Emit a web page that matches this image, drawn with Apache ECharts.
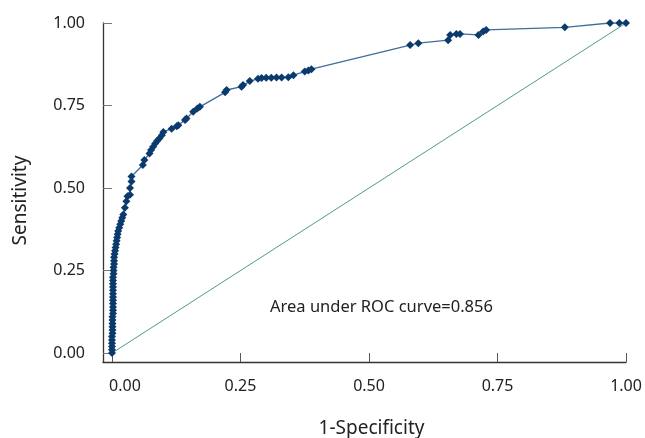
<!DOCTYPE html>
<html>
<head>
<meta charset="utf-8">
<script src="https://cdn.jsdelivr.net/npm/echarts@6/dist/echarts.min.js"></script>
<style>
  html, body { margin: 0; padding: 0; background: #fff; }
  #roc { width: 645px; height: 438px; }
</style>
</head>
<body>
<div id="roc"></div>
<script>
// ROC points (1-specificity, sensitivity)
var fpr = [0, 0, 0, 0, 0, 0, 0.001, 0.001, 0.001, 0.001, 0.001, 0.001,
  0.002, 0.002, 0.002, 0.002, 0.002, 0.002, 0.002, 0.002, 0.002, 0.002, 0.002, 0.002,
  0.003, 0.003, 0.003, 0.004, 0.004, 0.004, 0.005, 0.006, 0.007, 0.008, 0.009, 0.01,
  0.011, 0.012, 0.014, 0.016, 0.018, 0.02, 0.022, 0.025, 0.028,
  0.03, 0.035, 0.035, 0.038, 0.038, 0.06, 0.063, 0.073, 0.076, 0.08, 0.084, 0.088,
  0.092, 0.097, 0.1, 0.116, 0.126, 0.129, 0.142, 0.145, 0.158, 0.166, 0.171, 0.22,
  0.223, 0.252, 0.255, 0.268, 0.284, 0.291, 0.3, 0.31, 0.32, 0.33, 0.343, 0.353,
  0.375, 0.382, 0.388, 0.58, 0.596, 0.654, 0.658, 0.67, 0.677, 0.713, 0.722, 0.728,
  0.881, 0.969, 0.987, 1];
var sens = [0, 0.01, 0.02, 0.03, 0.04, 0.05, 0.06, 0.07, 0.08, 0.09, 0.1, 0.11,
  0.12, 0.13, 0.14, 0.15, 0.16, 0.17, 0.18, 0.19, 0.2, 0.21, 0.22, 0.23,
  0.24, 0.25, 0.26, 0.27, 0.28, 0.29, 0.3, 0.31, 0.32, 0.33, 0.34, 0.35,
  0.36, 0.37, 0.38, 0.39, 0.4, 0.41, 0.42, 0.44, 0.46,
  0.475, 0.48, 0.5, 0.52, 0.535, 0.57, 0.585, 0.605, 0.615, 0.625, 0.635, 0.643,
  0.65, 0.66, 0.67, 0.68, 0.687, 0.69, 0.706, 0.711, 0.731, 0.741, 0.746, 0.79,
  0.797, 0.807, 0.812, 0.824, 0.831, 0.833, 0.834, 0.834, 0.835, 0.835, 0.836, 0.842,
  0.853, 0.856, 0.86, 0.933, 0.939, 0.948, 0.964, 0.967, 0.967, 0.964, 0.974, 0.979,
  0.987, 1, 1, 1];
var tickValues = [0, 0.25, 0.5, 0.75, 1];
var aucText = 'Area under ROC curve=0.856';

var rocData = fpr.map(function (x, i) { return [x, sens[i]]; });
var diagData = [[0, 0], [1, 1]];

var chart = echarts.init(document.getElementById('roc'));
var font = 'Noto Sans';

var option = {
  animation: false,
  grid: { left: 103, right: 19, top: 23, bottom: 76, outerBoundsMode: 'none', containLabel: false },
  xAxis: {
    type: 'value',
    min: -0.0175,
    max: 1,
    name: '1-Specificity',
    nameLocation: 'middle',
    nameGap: 57,
    nameTextStyle: { fontFamily: font, fontSize: 19, color: '#222', padding: [0, 0, 0, 14] },
    axisLine: { show: true, onZero: false, lineStyle: { color: '#333', width: 1.3 } },
    axisTick: { show: true, inside: true, length: 9, customValues: tickValues, lineStyle: { color: '#555' } },
    axisLabel: {
      customValues: tickValues,
      margin: 16,
      fontFamily: font,
      fontSize: 16,
      color: '#222',
      formatter: function (v) {
        return v === 0 ? '{z|0.00}' : v.toFixed(2);
      },
      rich: { z: { fontFamily: font, fontSize: 16, color: '#222', padding: [0, 0, 0, 26] } }
    },
    splitLine: { show: false }
  },
  yAxis: {
    type: 'value',
    min: -0.027,
    max: 1,
    name: 'Sensitivity',
    nameLocation: 'middle',
    nameGap: 73,
    nameRotate: 90,
    nameTextStyle: { fontFamily: font, fontSize: 19, color: '#222', padding: [0, 16, 0, 0] },
    axisLine: { show: true, onZero: false, lineStyle: { color: '#333', width: 1.3 } },
    axisTick: { show: true, inside: true, length: 9, customValues: tickValues, lineStyle: { color: '#777' } },
    axisLabel: {
      customValues: tickValues,
      margin: 18,
      fontFamily: font,
      fontSize: 16,
      color: '#222',
      formatter: function (v) { return v.toFixed(2); }
    },
    splitLine: { show: false }
  },
  series: [
    {
      name: 'reference',
      type: 'line',
      data: diagData,
      symbol: 'none',
      lineStyle: { color: '#4f9a8f', width: 1 },
      z: 1
    },
    {
      name: 'ROC',
      type: 'line',
      data: rocData,
      symbol: 'diamond',
      symbolSize: [8, 8],
      itemStyle: { color: '#0b3a6c' },
      lineStyle: { color: '#3f6d9c', width: 1.3 },
      z: 2
    }
  ],
  graphic: [
    {
      type: 'text',
      left: 270,
      top: 299,
      style: { text: aucText, font: '16.5px "Noto Sans"', fill: '#222' }
    }
  ]
};

chart.setOption(option);
</script>
</body>
</html>
